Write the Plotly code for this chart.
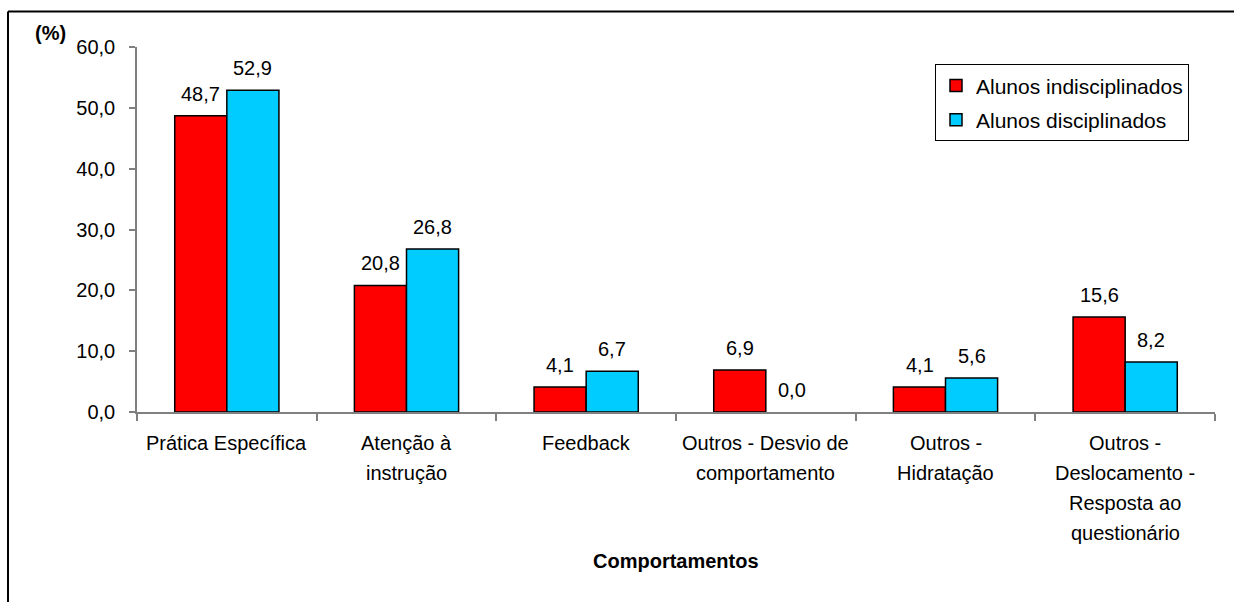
import plotly.graph_objects as go

# Categories (line breaks mark where each axis label wraps)
categories = [
    "Prática Específica",
    "Atenção à\ninstrução",
    "Feedback",
    "Outros - Desvio de\ncomportamento",
    "Outros -\nHidratação",
    "Outros -\nDeslocamento -\nResposta ao\nquestionário",
]
indisciplinados = [48.7, 20.8, 4.1, 6.9, 4.1, 15.6]
disciplinados = [52.9, 26.8, 6.7, 0.0, 5.6, 8.2]
series_names = ["Alunos indisciplinados", "Alunos disciplinados"]
y_ticks = [0, 10, 20, 30, 40, 50, 60]

FONT = "Liberation Sans, Arial, sans-serif"
FS = 20
AXIS_GRAY = "#808080"

x_keys = [c.replace("\n", " ") for c in categories]


def outline_widths(vals):
    # no outline on empty bars, so a zero value leaves only the axis line
    return [0 if v == 0 else 1.5 for v in vals]


fig = go.Figure()
fig.add_trace(go.Bar(
    x=x_keys, y=indisciplinados, name=series_names[0], legendgroup="a",
    marker=dict(color="#FF0000",
                line=dict(color="#000000", width=outline_widths(indisciplinados))),
))
fig.add_trace(go.Bar(
    x=x_keys, y=disciplinados, name=series_names[1], legendgroup="b",
    marker=dict(color="#00CCFF",
                line=dict(color="#000000", width=outline_widths(disciplinados))),
))

annotations = []
# value labels above each bar
for vals, shift in ((indisciplinados, -26), (disciplinados, 26)):
    for key, v in zip(x_keys, vals):
        annotations.append(dict(
            x=key, y=v, xref="x", yref="y", text=f"{v:.1f}".replace(".", ","),
            showarrow=False, xshift=shift, yshift=22,
            xanchor="center", yanchor="middle",
            font=dict(family=FONT, size=FS, color="#000000"),
        ))

# category labels, one annotation per wrapped line
for key, cat in zip(x_keys, categories):
    for i, line in enumerate(cat.split("\n")):
        annotations.append(dict(
            x=key, y=0, xref="x", yref="y", text=line, showarrow=False,
            yshift=-30.5 - 30 * i, xanchor="center", yanchor="middle",
            font=dict(family=FONT, size=FS, color="#000000"),
        ))

annotations.append(dict(
    x=(50 - 137) / 1078, y=(412.5 - 33) / 365.8, xref="paper", yref="paper",
    text="<b>(%)</b>", showarrow=False, xanchor="center", yanchor="middle",
    font=dict(family=FONT, size=FS, color="#000000"),
))
annotations.append(dict(
    x=0.5, y=(412.5 - 562) / 365.8, xref="paper", yref="paper",
    text="<b>Comportamentos</b>", showarrow=False,
    xanchor="center", yanchor="middle",
    font=dict(family=FONT, size=FS, color="#000000"),
))

# outer frame (top and left edges visible)
shapes = [
    dict(type="line", xref="paper", yref="paper",
         x0=(8 - 137) / 1078, x1=(1240 - 137) / 1078,
         y0=(412.5 - 11) / 365.8, y1=(412.5 - 11) / 365.8,
         line=dict(color="#000000", width=2)),
    dict(type="line", xref="paper", yref="paper",
         x0=(8 - 137) / 1078, x1=(8 - 137) / 1078,
         y0=(412.5 - 11) / 365.8, y1=(412.5 - 610) / 365.8,
         line=dict(color="#000000", width=2)),
]

fig.update_layout(
    width=1234, height=602,
    margin=dict(l=137, r=19, t=46.7, b=189.5, pad=0),
    paper_bgcolor="white", plot_bgcolor="white",
    barmode="group", bargap=0.42, bargroupgap=0,
    separators=",.",
    font=dict(family=FONT, size=FS, color="#000000"),
    showlegend=True,
    legend=dict(
        x=(935 - 137) / 1078, y=(412.5 - 64) / 365.8,
        xanchor="left", yanchor="top",
        bgcolor="white", bordercolor="#000000", borderwidth=1,
        font=dict(family=FONT, size=21, color="#000000"),
        traceorder="grouped", tracegroupgap=4,
    ),
    annotations=annotations,
    shapes=shapes,
)
fig.update_xaxes(
    type="category", tickson="boundaries", showticklabels=False,
    ticks="outside", ticklen=7, tickcolor=AXIS_GRAY, tickwidth=1.5,
    showline=True, linecolor=AXIS_GRAY, linewidth=1.5,
    showgrid=False, zeroline=False,
)
fig.update_yaxes(
    range=[0, 60], tickvals=y_ticks, tickformat=".1f",
    ticks="outside", ticklen=6, tickcolor=AXIS_GRAY, tickwidth=1.5,
    showline=True, linecolor=AXIS_GRAY, linewidth=1.5,
    showgrid=False, zeroline=False, ticklabelstandoff=10,
    tickfont=dict(family=FONT, size=FS, color="#000000"),
)

fig.write_html("out.html")
